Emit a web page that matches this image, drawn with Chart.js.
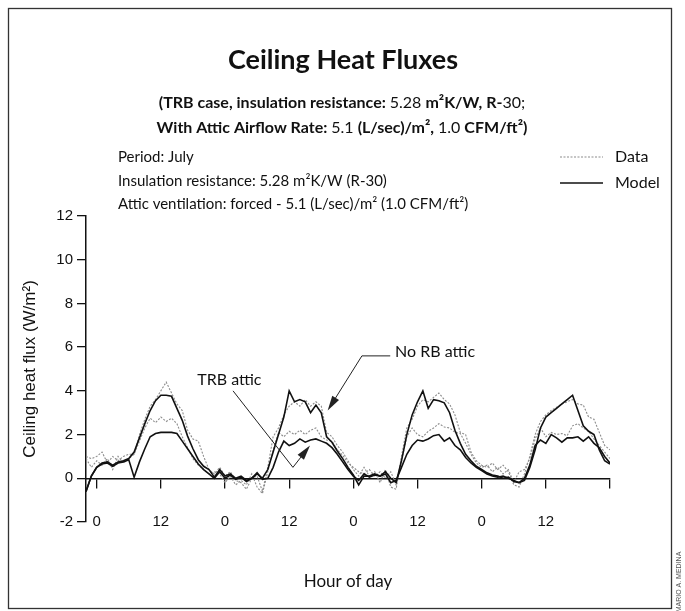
<!DOCTYPE html>
<html lang="en">
<head>
<meta charset="UTF-8">
<title>Ceiling Heat Fluxes</title>
<script src="https://cdn.jsdelivr.net/npm/chart.js@4"></script>
<style>
  html, body { margin: 0; padding: 0; background: #fff; }
</style>
</head>
<body>
<canvas id="fluxChart" width="685" height="611"></canvas>

<script>
// hour of the run, one reading per hour
const hours = [-2, -1, 0, 1, 2, 3, 4, 5, 6, 7, 8, 9, 10, 11, 12, 13, 14, 15, 16, 17, 18, 19, 20, 21, 22,
  23, 24, 25, 26, 27, 28, 29, 30, 31, 32, 33, 34, 35, 36, 37, 38, 39, 40, 41, 42, 43, 44, 45, 46, 47, 48, 49, 50,
  51, 52, 53, 54, 55, 56, 57, 58, 59, 60, 61, 62, 63, 64, 65, 66, 67, 68, 69, 70, 71, 72, 73, 74, 75, 76, 77, 78, 79,
  80, 81, 82, 83, 84, 85, 86, 87, 88, 89, 90, 91, 92, 93, 94, 95, 96];

// W/m2
const noRbModel = [-0.6, 0.1, 0.5, 0.7, 0.75, 0.6, 0.75, 0.8, 0.9,
  1.2, 1.85, 2.5, 3.1, 3.55, 3.8, 3.8, 3.75, 3.2, 2.65, 1.93, 1.35, 0.85, 0.55, 0.4, 0.05,
  0.4, 0.1, 0.2, 0.0, 0.1, -0.1, 0.0, 0.2, 0.0,
  0.4, 1.2, 2.0, 2.8, 4.0, 3.5, 3.6, 3.5, 3.0, 3.35, 3.0, 1.9, 1.65, 1.25, 0.9, 0.5, 0.15, -0.3, 0.1,
  0.1, 0.2, 0.1, 0.3, 0.0,
  -0.2, 0.8, 2.0, 2.9, 3.5, 4.0, 3.2, 3.6, 3.55, 3.45, 3.0, 2.2, 1.6, 1.1, 0.8, 0.55, 0.4, 0.25, 0.15, 0.1, 0.0, 0.05, -0.15, -0.2,
  -0.1, 0.5, 1.3, 2.3, 2.8, 3.0, 3.2, 3.4, 3.6, 3.8, 3.1, 2.4, 2.15, 2.0, 1.3, 0.8, 0.65];

const trbModel = [-0.6, 0.1, 0.5, 0.65, 0.7, 0.55, 0.7, 0.75, 0.85,
  0.05, 0.75, 1.35, 1.9, 2.05, 2.1, 2.1, 2.1, 2.05, 1.7, 1.35, 1.0, 0.65, 0.4, 0.2, 0.0,
  0.3, 0.0, 0.15, -0.05, 0.05, -0.15, 0.0, 0.25, -0.05,
  0.0, 0.5, 1.2, 1.7, 1.5, 1.6, 1.8, 1.65, 1.75, 1.8, 1.7, 1.6, 1.4, 1.1, 0.75, 0.4, 0.1, -0.1, 0.2,
  0.05, 0.15, 0.1, 0.2, -0.2,
  -0.1, 0.5, 1.1, 1.5, 1.75, 1.7, 1.8, 1.95, 2.0, 1.7, 1.85, 1.5, 1.3, 0.95, 0.7, 0.5, 0.35, 0.2, 0.1, 0.05, 0.1, 0.0, -0.1, -0.2,
  0.0, 0.6, 1.5, 1.75, 1.6, 2.0, 1.85, 1.65, 1.85, 1.85, 1.9, 1.7, 1.9, 1.6, 1.4, 1.0, 0.7];

const noRbData = [1.0, 0.9, 1.0, 1.2, 0.7, 1.0, 0.8, 1.0, 1.1,
  1.1, 2.0, 2.7, 3.3, 3.6, 4.0, 4.4, 3.9, 3.4, 3.1, 2.2, 1.8, 1.7, 1.0, 0.4, 0.2,
  0.5, 0.1, 0.3, -0.1, -0.2, -0.5, 0.0, 0.1, -0.6,
  0.5, 1.9, 2.3, 2.9, 3.3, 3.5, 3.3, 3.6, 3.3, 3.5, 3.3, 2.1, 1.9, 1.5, 1.2, 0.8, 0.4, 0.1, 0.5,
  0.1, 0.3, -0.2, 0.4, -0.4,
  -0.5, 1.0, 2.3, 2.7, 3.3, 3.6, 3.5, 3.7, 3.9, 3.6, 3.4, 2.9, 2.1, 2.0, 1.2, 0.8, 0.6, 0.5, 0.7, 0.4, 0.6, 0.3, -0.3, -0.4,
  0.2, 1.0, 2.0, 2.6, 2.9, 3.1, 3.25, 3.4, 3.5, 3.6, 3.4, 3.35, 2.8, 2.7, 2.1, 1.5, 1.3];

const trbData = [0.9, 0.5, 0.8, 0.6, 0.9, 0.4, 1.0, 0.7, 0.9,
  1.1, 1.7, 2.3, 2.75, 2.55, 2.8, 2.6, 2.75, 2.5, 1.9, 1.4, 0.9, 0.6, 0.4, 0.2, 0.3,
  0.2, -0.2, 0.1, -0.3, -0.1, -0.3, 0.2, -0.4, -0.7,
  0.3, 1.3, 2.1, 1.9, 2.15, 2.0, 2.2, 2.0, 2.2, 2.3, 1.9, 1.75, 1.7, 1.3, 1.05, 0.7, 0.5, 0.3, 0.2,
  0.4, 0.1, 0.3, 0.0, 0.3,
  -0.3, 0.8, 1.9, 2.3, 2.0, 1.9, 2.15, 2.3, 2.5, 2.35, 2.3, 2.1, 2.05, 1.6, 1.1, 0.7, 0.5, 0.6, 0.3, 0.5, 0.2, 0.4, -0.2, 0.3,
  0.4, 0.9, 1.8, 2.3, 1.9, 2.1, 2.0, 2.05, 1.95, 2.4, 2.5, 2.3, 2.15, 1.8, 1.5, 1.2, 0.9];

const xTickHours = [0, 12, 24, 36, 48, 60, 72, 84, 96];
const xTickLabels = ['0', '12', '0', '12', '0', '12', '0', '12', ''];

const DATA_COLOR = '#8c8c8c';
const DATA_DASH = [2, 1.5];
const MODEL_COLOR = '#111';

const pts = (vals) => vals.map((v, i) => ({ x: hours[i], y: v }));

function drawArrow(ctx, x1, y1, x2, y2) {
  const ang = Math.atan2(y2 - y1, x2 - x1);
  const len = 15, w = 4;
  ctx.beginPath();
  ctx.moveTo(x1, y1);
  ctx.lineTo(x2 - Math.cos(ang) * len * 0.8, y2 - Math.sin(ang) * len * 0.8);
  ctx.stroke();
  ctx.beginPath();
  ctx.moveTo(x2, y2);
  ctx.lineTo(x2 - Math.cos(ang) * len - Math.sin(ang) * w, y2 - Math.sin(ang) * len + Math.cos(ang) * w);
  ctx.lineTo(x2 - Math.cos(ang) * len + Math.sin(ang) * w, y2 - Math.sin(ang) * len - Math.cos(ang) * w);
  ctx.closePath();
  ctx.fill();
}

function drawSegments(ctx, segs, cx, y) {
  let total = 0;
  segs.forEach(s => { ctx.font = s[1]; total += ctx.measureText(s[0]).width; });
  let x = cx - total / 2;
  ctx.textAlign = 'left';
  segs.forEach(s => {
    ctx.font = s[1];
    ctx.fillText(s[0], x, y);
    x += ctx.measureText(s[0]).width;
  });
}

const B = 'bold 16px Lato';
const R = '16px Lato';

const decor = {
  id: 'decor',
  beforeDraw(chart) {
    const ctx = chart.ctx;
    ctx.save();
    ctx.fillStyle = '#fff';
    ctx.fillRect(0, 0, chart.width, chart.height);
    ctx.restore();
  },
  afterDraw(chart) {
    const ctx = chart.ctx;
    const xs = chart.scales.x, ys = chart.scales.y;
    ctx.save();
    // frame
    ctx.strokeStyle = '#333';
    ctx.lineWidth = 1.3;
    ctx.strokeRect(8.5, 8.5, 663, 600);

    ctx.fillStyle = '#111';
    ctx.textBaseline = 'middle';
    ctx.textAlign = 'center';
    ctx.font = 'bold 27px Lato';
    ctx.fillText('Ceiling Heat Fluxes', 343, 60);
    drawSegments(ctx, [['(TRB case, insulation resistance: ', B], ['5.28 ', R], ['m²K/W, R-', B], ['30;', R]], 342, 103);
    drawSegments(ctx, [['With Attic Airflow Rate: ', B], ['5.1 ', R], ['(L/sec)/m², ', B], ['1.0 ', R], ['CFM/ft²)', B]], 342, 128);

    ctx.font = '15px Lato';
    ctx.textAlign = 'left';
    ctx.fillText('Period: July', 118, 157);
    ctx.fillText('Insulation resistance: 5.28 m²K/W (R-30)', 118, 181);
    ctx.fillText('Attic ventilation: forced - 5.1 (L/sec)/m² (1.0 CFM/ft²)', 118, 204);

    // legend
    ctx.font = '16px Lato';
    ctx.fillText('Data', 615, 157);
    ctx.fillText('Model', 615, 183);
    ctx.lineWidth = 1.1;
    ctx.strokeStyle = DATA_COLOR;
    ctx.setLineDash(DATA_DASH);
    ctx.beginPath(); ctx.moveTo(560, 157); ctx.lineTo(603, 157); ctx.stroke();
    ctx.setLineDash([]);
    ctx.lineWidth = 1.6;
    ctx.strokeStyle = MODEL_COLOR;
    ctx.beginPath(); ctx.moveTo(560, 183); ctx.lineTo(603, 183); ctx.stroke();

    // callouts, anchored in data units
    ctx.font = '16px Lato';
    ctx.fillText('TRB attic', xs.getPixelForValue(18.8), ys.getPixelForValue(4.5));
    ctx.fillText('No RB attic', xs.getPixelForValue(55.8), ys.getPixelForValue(5.8));
    ctx.lineWidth = 1;
    ctx.strokeStyle = '#222';
    ctx.fillStyle = '#222';
    ctx.beginPath();
    ctx.moveTo(xs.getPixelForValue(25.5), ys.getPixelForValue(4.0));
    ctx.lineTo(xs.getPixelForValue(36.7), ys.getPixelForValue(0.5));
    ctx.stroke();
    drawArrow(ctx, xs.getPixelForValue(36.7), ys.getPixelForValue(0.5), xs.getPixelForValue(39.9), ys.getPixelForValue(1.5));
    ctx.beginPath();
    ctx.moveTo(xs.getPixelForValue(54.9), ys.getPixelForValue(5.6));
    ctx.lineTo(xs.getPixelForValue(49.6), ys.getPixelForValue(5.6));
    ctx.stroke();
    drawArrow(ctx, xs.getPixelForValue(49.6), ys.getPixelForValue(5.6), xs.getPixelForValue(43.2), ys.getPixelForValue(3.1));

    // credit
    ctx.translate(679, 582);
    ctx.rotate(-Math.PI / 2);
    ctx.textAlign = 'center';
    ctx.font = '7px "Liberation Sans"';
    ctx.fillStyle = '#555';
    ctx.fillText('MARIO A. MEDINA', 0, 0);
    ctx.restore();
  }
};

const ctx = document.getElementById('fluxChart').getContext('2d');
new Chart(ctx, {
  type: 'line',
  data: {
    datasets: [
      { label: 'No RB attic - Model', data: pts(noRbModel), borderColor: MODEL_COLOR, borderWidth: 1.6 },
      { label: 'TRB attic - Model', data: pts(trbModel), borderColor: MODEL_COLOR, borderWidth: 1.6 },
      { label: 'No RB attic - Data', data: pts(noRbData), borderColor: DATA_COLOR, borderWidth: 1.1, borderDash: DATA_DASH },
      { label: 'TRB attic - Data', data: pts(trbData), borderColor: DATA_COLOR, borderWidth: 1.1, borderDash: DATA_DASH }
    ]
  },
  options: {
    responsive: false,
    animation: false,
    devicePixelRatio: 1,
    layout: { padding: { top: 216, right: 75, left: 0, bottom: 0 } },
    elements: { point: { radius: 0 }, line: { tension: 0, fill: false } },
    plugins: { legend: { display: false }, tooltip: { enabled: false } },
    scales: {
      x: {
        type: 'linear', min: -2, max: 96,
        afterFit: (s) => { s.height = 89; },
        grid: { display: false, drawTicks: false },
        border: { display: false },
        ticks: { display: false },
        title: { display: true, text: 'Hour of day', color: '#111', font: { family: 'Lato', size: 17 }, padding: { top: 0, bottom: 19 } }
      },
      x2: {
        type: 'linear', min: -2, max: 96, position: { y: 0 },
        afterBuildTicks: (s) => { s.ticks = xTickHours.map(v => ({ value: v })); },
        afterFit: (s) => { s.height = 0; },
        grid: { drawOnChartArea: false, drawTicks: true, tickLength: 9, color: '#111', lineWidth: 1.3 },
        border: { display: true, color: '#111', width: 1.5 },
        ticks: {
          padding: 26, color: '#111', font: { family: 'Liberation Sans', size: 15 },
          maxRotation: 0, autoSkip: false,
          callback: (v, i) => xTickLabels[i]
        }
      },
      y: {
        min: -2, max: 12,
        ticks: { stepSize: 2, padding: 4, color: '#111', font: { family: 'Liberation Sans', size: 15 } },
        afterFit: (s) => { s.width = 86; },
        grid: { drawOnChartArea: false, drawTicks: true, tickLength: 9, color: '#111', lineWidth: 1.3 },
        border: { display: true, color: '#111', width: 1.5 },
        title: { display: true, text: 'Ceiling heat flux (W/m²)', color: '#111', font: { family: 'Liberation Sans', size: 17 }, padding: { top: 20, bottom: 0 } }
      }
    }
  },
  plugins: [decor]
});
</script>
</body>
</html>
